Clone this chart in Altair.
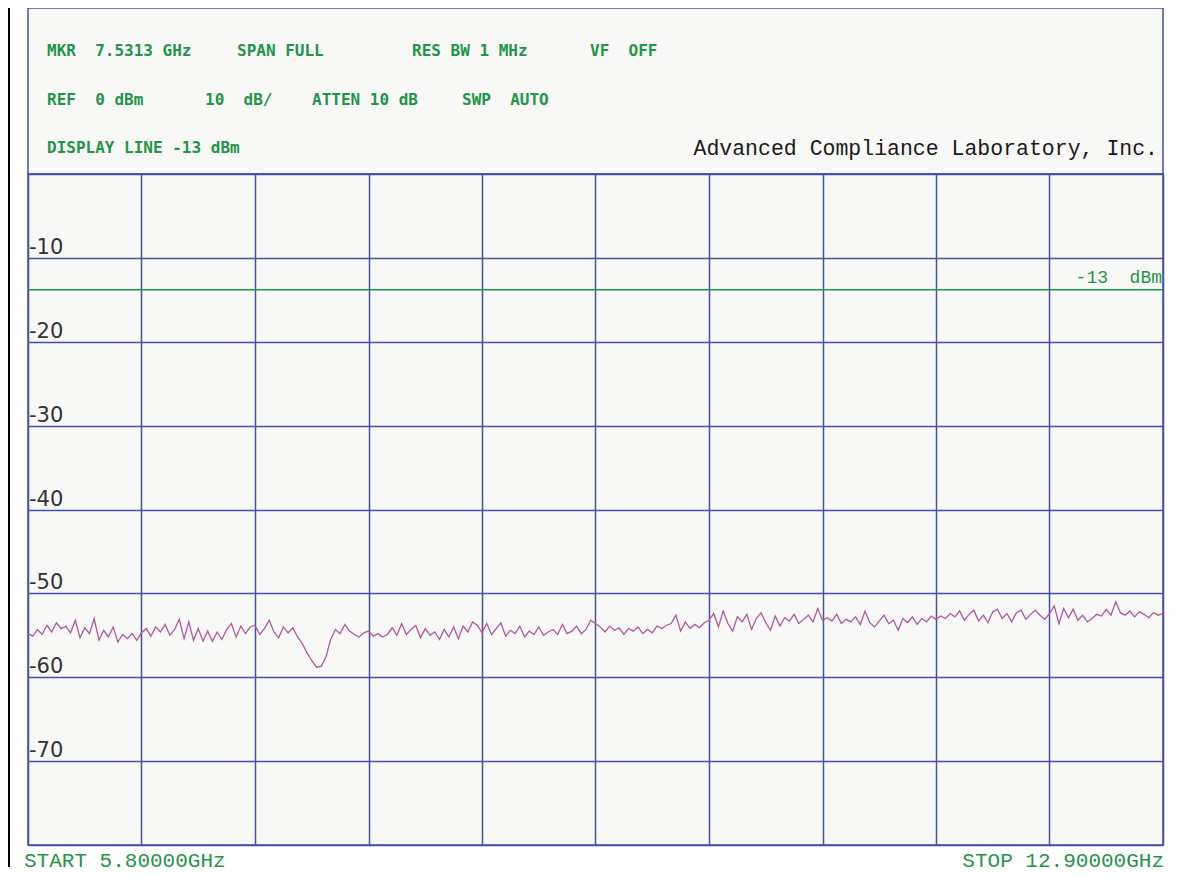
import altair as alt
import numpy as np
import pandas as pd

# ---------------- data ----------------
START_GHZ = 5.8
STOP_GHZ = 12.9
X_GRID_GHZ = [5.8, 6.51, 7.22, 7.93, 8.64, 9.35, 10.06, 10.77, 11.48, 12.19, 12.9]
Y_GRID_DBM = [0, -10, -20, -30, -40, -50, -60, -70, -80]
Y_LABEL_VALUES = [-10, -20, -30, -40, -50, -60, -70]
Y_LABEL_TEXT = ["-10", "-20", "-30", "-40", "-50", "-60", "-70"]
DISPLAY_LINE_DBM = -13.8
DISPLAY_LINE_LABEL = "-13\u00a0\u00a0dBm"

TRACE_DBM = [
    # 5.80 - 6.51
    -54.8, -55.1, -54.3, -54.9, -53.8, -54.6, -53.5, -54.2, -53.9, -54.7, -53.2, -55.3,
    -54.1, -54.8, -53.0, -55.6, -54.4, -55.2, -54.0, -55.8, -54.9, -55.4, -54.8, -55.6,
    # 6.51 - 7.22
    -54.7, -54.2, -55.1, -54.0, -54.6, -53.7, -55.0, -54.3, -53.1, -55.4, -53.4, -55.6,
    -54.2, -55.7, -54.5, -55.7, -54.6, -55.5, -54.3, -53.6, -55.2, -53.9, -54.8, -54.0,
    # 7.22 - 7.93
    -53.8, -54.9, -54.2, -53.2, -54.6, -55.3, -54.0, -54.7, -54.1, -55.2, -56.0, -57.1,
    -58.0, -58.8, -58.7, -57.6, -55.5, -54.3, -54.8, -53.7, -54.5, -54.9, -55.2, -54.7,
    # 7.93 - 8.64
    -54.5, -55.1, -54.8, -55.2, -54.9, -54.1, -55.0, -53.6, -54.9, -54.3, -53.8, -55.3,
    -54.2, -55.0, -54.6, -55.5, -54.3, -55.2, -54.0, -55.4, -53.9, -54.6, -53.4, -53.8,
    # 8.64 - 9.35
    -54.7, -53.6, -54.9, -54.2, -53.5, -55.1, -54.4, -54.8, -53.9, -55.2, -54.5, -54.9,
    -54.0, -55.0, -54.6, -54.3, -54.9, -53.7, -54.8, -54.5, -53.9, -54.8, -54.3, -53.2,
    # 9.35 - 10.06
    -53.6, -54.0, -54.6, -53.9, -54.4, -54.1, -54.9, -54.2, -54.5, -54.0, -54.8, -54.3,
    -54.7, -53.9, -54.2, -53.8, -53.6, -52.6, -54.5, -53.4, -54.2, -53.7, -54.1, -53.5,
    # 10.06 - 10.77
    -53.2, -52.4, -54.0, -52.1, -53.6, -54.5, -52.8, -53.4, -52.5, -54.3, -53.0, -52.3,
    -53.5, -54.4, -52.7, -53.9, -52.9, -53.3, -52.5, -53.6, -53.1, -52.6, -53.4, -51.8,
    # 10.77 - 11.48
    -53.2, -52.9, -53.3, -52.5, -53.6, -53.1, -53.4, -52.8, -53.7, -52.1, -53.5, -54.0,
    -53.3, -52.6, -53.6, -53.2, -54.4, -53.0, -53.5, -52.8, -53.7, -53.0, -53.4, -52.7,
    # 11.48 - 12.19
    -53.1, -52.7, -53.0, -52.4, -52.8, -52.1, -53.2, -52.5, -52.0, -53.3, -52.6, -53.5,
    -52.2, -51.9, -53.0, -52.4, -53.4, -52.3, -52.0, -53.1, -52.5, -52.0, -52.6, -53.1,
    # 12.19 - 12.90
    -52.4, -51.5, -53.6, -51.8, -52.9, -51.9, -53.2, -52.6, -53.4, -53.0, -52.5, -52.7,
    -51.9, -52.6, -51.0, -52.3, -52.6, -52.1, -52.8, -52.2, -52.5, -52.9, -52.3, -52.6,
    -52.4,
]

NB = "\u00a0"
HEADER_ROW1 = [f"MKR{NB}{NB}7.5313{NB}GHz", f"SPAN{NB}FULL", f"RES{NB}BW{NB}1{NB}MHz", f"VF{NB}{NB}OFF"]
HEADER_ROW2 = [f"REF{NB}{NB}0{NB}dBm", f"10{NB}{NB}dB/", f"ATTEN{NB}10{NB}dB", f"SWP{NB}{NB}AUTO"]
HEADER_ROW3 = f"DISPLAY{NB}LINE{NB}-13{NB}dBm"
COMPANY = "Advanced Compliance Laboratory, Inc."
START_LABEL = "START 5.80000GHz"
STOP_LABEL = "STOP 12.90000GHz"

# ---------------- styles ----------------
GRID = "#4450a2"
GREEN = "#1f9548"
TRACE = "#b4569f"
BG = "#f8f8f6"
W, HH, PH = 1135, 166, 671

freqs = np.linspace(START_GHZ, STOP_GHZ, len(TRACE_DBM))
trace_df = pd.DataFrame({"f": freqs, "dbm": TRACE_DBM})

xs = alt.Scale(domain=[START_GHZ, STOP_GHZ], nice=False, zero=False)
ys = alt.Scale(domain=[-80, 0], nice=False, zero=False)
x_axis = alt.Axis(values=X_GRID_GHZ, grid=True, gridColor=GRID, gridWidth=1.5, gridOpacity=1,
                  labels=False, ticks=False, domain=False, title=None)
y_axis = alt.Axis(values=Y_GRID_DBM, grid=True, gridColor=GRID, gridWidth=1.5, gridOpacity=1,
                  labels=False, ticks=False, domain=False, title=None)

line = alt.Chart(trace_df).mark_line(color=TRACE, strokeWidth=1.3).encode(
    x=alt.X("f:Q", scale=xs, axis=x_axis),
    y=alt.Y("dbm:Q", scale=ys, axis=y_axis),
)

dl_df = pd.DataFrame({"y": [DISPLAY_LINE_DBM], "x": [STOP_GHZ], "t": [DISPLAY_LINE_LABEL]})
dl_rule = alt.Chart(dl_df).mark_rule(color=GREEN, strokeWidth=1.5).encode(
    y=alt.Y("y:Q", scale=ys)
)
dl_text = alt.Chart(dl_df).mark_text(
    align="right", baseline="alphabetic", dx=-1, dy=-7,
    font="Liberation Mono", fontSize=18, color=GREEN
).encode(x=alt.X("x:Q", scale=xs), y=alt.Y("y:Q", scale=ys), text="t:N")

ylab_df = pd.DataFrame({"y": Y_LABEL_VALUES, "t": Y_LABEL_TEXT, "x": [START_GHZ] * len(Y_LABEL_VALUES)})
ylabels = alt.Chart(ylab_df).mark_text(
    align="left", baseline="alphabetic", dx=1, dy=-4,
    font="DejaVu Sans", fontSize=21, color="#333333"
).encode(x=alt.X("x:Q", scale=xs), y=alt.Y("y:Q", scale=ys), text="t:N")

ends_df = pd.DataFrame({"x": [START_GHZ, STOP_GHZ], "y": [-80, -80], "t": [START_LABEL, STOP_LABEL]})
start_text = alt.Chart(ends_df.iloc[[0]]).mark_text(
    align="left", baseline="top", dx=-4, dy=5,
    font="Liberation Mono", fontSize=21, color=GREEN
).encode(x=alt.X("x:Q", scale=xs), y=alt.Y("y:Q", scale=ys), text="t:N")
stop_text = alt.Chart(ends_df.iloc[[1]]).mark_text(
    align="right", baseline="top", dx=1, dy=5,
    font="Liberation Mono", fontSize=21, color=GREEN
).encode(x=alt.X("x:Q", scale=xs), y=alt.Y("y:Q", scale=ys), text="t:N")

dummy = pd.DataFrame({"a": [0]})
black_edge = alt.Chart(dummy).mark_rule(color="#000000", strokeWidth=2).encode(
    x=alt.value(-19), y=alt.value(-HH), y2=alt.value(PH + 22)
)

plot = alt.layer(line, dl_rule, dl_text, ylabels, start_text, stop_text, black_edge).properties(
    width=W, height=PH
)

# ---------------- header ----------------
def htext(txt, px, py, color=GREEN, font="DejaVu Sans Mono", size=16, align="left", weight="bold"):
    return alt.Chart(pd.DataFrame({"t": [txt]})).mark_text(
        align=align, baseline="middle", font=font, fontSize=size, color=color, fontWeight=weight
    ).encode(x=alt.value(px), y=alt.value(py), text="t:N")

row1_x = [19, 209, 384, 562]
row2_x = [19, 177, 284, 434]
layers = []
for t, px in zip(HEADER_ROW1, row1_x):
    layers.append(htext(t, px, 43))
for t, px in zip(HEADER_ROW2, row2_x):
    layers.append(htext(t, px, 92))
layers.append(htext(HEADER_ROW3, 19, 140))
layers.append(htext(COMPANY, 1130, 141, color="#1a1a1a", font="Liberation Mono", size=21.5,
                    align="right", weight="normal"))

header = alt.layer(*layers).properties(width=W, height=HH)

chart = alt.vconcat(header, plot, spacing=0, bounds="flush").properties(
    padding={"left": -1, "top": -2, "right": 0, "bottom": 0}
).configure_view(
    stroke=GRID, strokeWidth=1.5, fill=BG
)

chart.save("out.html", embed_options={"renderer": "svg", "actions": False})
